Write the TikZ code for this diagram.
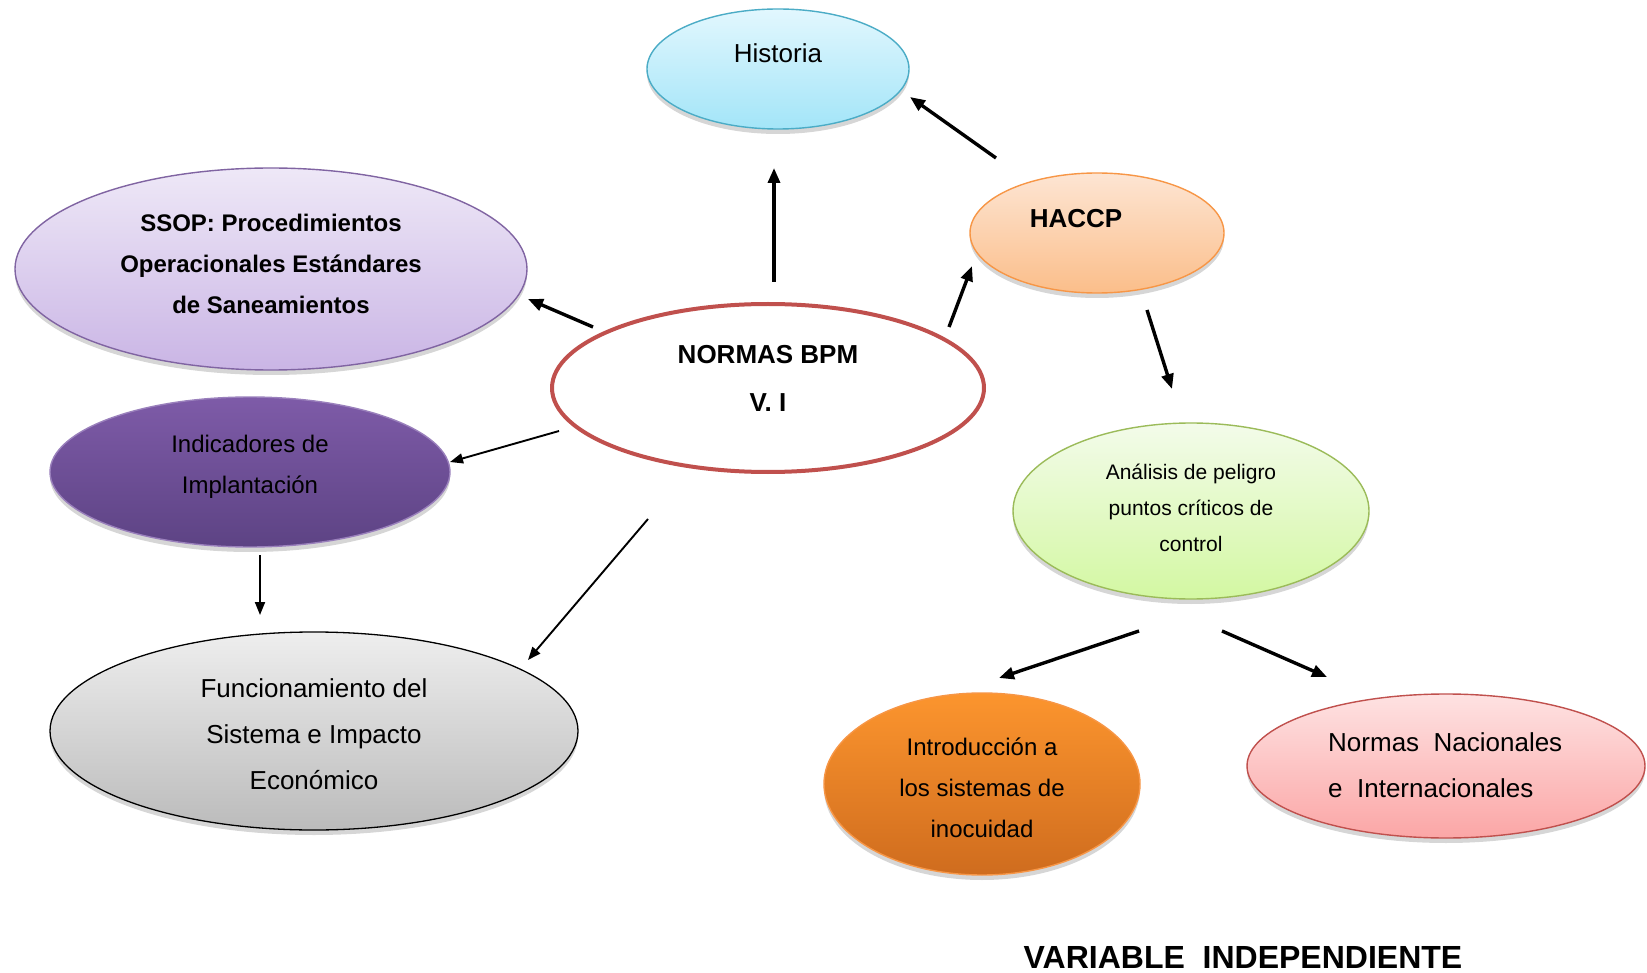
\documentclass[tikz,border=0pt]{standalone}
\usepackage{fontspec}
\setmainfont{Liberation Sans}
\usetikzlibrary{shapes.geometric,arrows.meta,shadows}

% fills and outlines of the bubbles
\definecolor{histTop}{HTML}{E2F7FE}
\definecolor{histBot}{HTML}{A3E5F8}
\definecolor{histLine}{HTML}{4BACC6}
\definecolor{hacTop}{HTML}{FDE5D3}
\definecolor{hacBot}{HTML}{FBBE8A}
\definecolor{hacLine}{HTML}{F79646}
\definecolor{ssopTop}{HTML}{EEE8F7}
\definecolor{ssopBot}{HTML}{CAB5E5}
\definecolor{ssopLine}{HTML}{8064A2}
\definecolor{indTop}{HTML}{7E5BA8}
\definecolor{indBot}{HTML}{5D4384}
\definecolor{indLine}{HTML}{9A80BC}
\definecolor{bpmLine}{HTML}{C0504D}
\definecolor{funTop}{HTML}{EEEEEE}
\definecolor{funBot}{HTML}{BBBBBB}
\definecolor{anaTop}{HTML}{F3FBEA}
\definecolor{anaBot}{HTML}{D3F8A2}
\definecolor{anaLine}{HTML}{9BBB59}
\definecolor{intTop}{HTML}{FC952E}
\definecolor{intBot}{HTML}{CF6C1E}
\definecolor{nacTop}{HTML}{FEE2E2}
\definecolor{nacBot}{HTML}{FBA6A6}

\begin{document}
\begin{tikzpicture}[x=1pt,y=-1pt,
  bubble/.style={ellipse, inner sep=0pt, line width=1.4pt},
  softshadow/.style={drop shadow={shadow xshift=0pt,shadow yshift=-5pt,opacity=0.16,fill=black}},
  bigarrow/.style={line width=3.4pt,-{Triangle[length=15pt,width=12pt]}},
  smallarrow/.style={line width=1.9pt,-{Triangle[length=13pt,width=10pt]}},
  plain/.style={font=\fontsize{24}{41}\selectfont, align=center, inner sep=0pt},
]
\useasboundingbox[fill=white] (0,0) rectangle (1647,973);

% ---- bubbles ----
\node[bubble, softshadow, draw=histLine, top color=histTop, bottom color=histBot,
      minimum width=262pt, minimum height=120pt] (historia) at (778,69) {};
\node[bubble, softshadow, draw=hacLine, top color=hacTop, bottom color=hacBot,
      minimum width=254pt, minimum height=120pt] (haccp) at (1097,233) {};
\node[bubble, softshadow, draw=ssopLine, top color=ssopTop, bottom color=ssopBot,
      minimum width=512pt, minimum height=202pt] (ssop) at (271,269) {};
\node[bubble, draw=bpmLine, fill=white, line width=4pt,
      minimum width=432pt, minimum height=168pt] (bpm) at (768,388) {};
\node[bubble, softshadow, draw=indLine, top color=indTop, bottom color=indBot,
      minimum width=400pt, minimum height=150pt] (ind) at (250,472) {};
\node[bubble, softshadow, draw=black, line width=1.3pt, top color=funTop, bottom color=funBot,
      minimum width=528pt, minimum height=198pt] (fun) at (314,731) {};
\node[bubble, softshadow, draw=anaLine, top color=anaTop, bottom color=anaBot,
      minimum width=356pt, minimum height=176pt] (ana) at (1191,511) {};
\node[bubble, softshadow, draw=hacLine, top color=intTop, bottom color=intBot,
      minimum width=316pt, minimum height=182pt] (intro) at (982,784) {};
\node[bubble, softshadow, draw=bpmLine, top color=nacTop, bottom color=nacBot,
      minimum width=398pt, minimum height=144pt] (nac) at (1446,766) {};

% ---- texts ----
\node[plain, font=\fontsize{26}{46}\selectfont] (historia-t) at (778,53) {Historia};
\node[plain, font=\fontsize{26}{46}\selectfont\bfseries] (haccp-t) at (1076,219) {HACCP};
\node[plain, font=\fontsize{24}{41}\selectfont\bfseries] (ssop-t) at (271,264)
  {SSOP: Procedimientos\\Operacionales Estándares\\de Saneamientos};
\node[plain, font=\fontsize{26}{48}\selectfont\bfseries] (bpm-t) at (768,378) {NORMAS BPM\\V. I};
\node[plain] (ind-t) at (250,467) {Indicadores de\\Implantación};
\node[plain, font=\fontsize{26}{46}\selectfont] (fun-t) at (314,734)
  {Funcionamiento del\\Sistema e Impacto\\Económico};
\node[plain, font=\fontsize{21}{36}\selectfont] (ana-t) at (1191,508)
  {Análisis de peligro\\puntos críticos de\\control};
\node[plain] (intro-t) at (982,788) {Introducción a\\los sistemas de\\inocuidad};
\node[plain, font=\fontsize{26}{46}\selectfont, align=left, anchor=west] (nac-t) at (1328,765)
  {Normas\ \ Nacionales\\e\ \ Internacionales};
\node[plain, font=\fontsize{32}{38}\selectfont\bfseries] (title) at (1243,957)
  {VARIABLE\ \ INDEPENDIENTE};

% ---- connector ends ----
\coordinate (bpm-n)   at (774,282);  \coordinate (hist-s)  at (774,168);
\coordinate (hac-nw)  at (996,158);  \coordinate (hist-se) at (910,97);
\coordinate (bpm-nw)  at (593,327);  \coordinate (ssop-e)  at (528,299);
\coordinate (bpm-ne)  at (949,327);  \coordinate (hac-sw)  at (972,266);
\coordinate (hac-s)   at (1147,310); \coordinate (ana-n)   at (1172,389);
\coordinate (bpm-w)   at (559,431);  \coordinate (ind-e)   at (450,462);
\coordinate (ind-s)   at (260,555);  \coordinate (fun-n)   at (260,615);
\coordinate (bpm-sw)  at (648,519);  \coordinate (fun-ne)  at (528,660);
\coordinate (ana-sw)  at (1139,631); \coordinate (intro-n) at (999,678);
\coordinate (ana-se)  at (1222,631); \coordinate (nac-n)   at (1327,677);

% ---- connectors ----
\draw[bigarrow] (bpm-n) -- (hist-s);
\draw[bigarrow] (hac-nw) -- (hist-se);
\draw[bigarrow] (bpm-nw) -- (ssop-e);
\draw[bigarrow] (bpm-ne) -- (hac-sw);
\draw[bigarrow] (hac-s) -- (ana-n);
\draw[smallarrow] (bpm-w) -- (ind-e);
\draw[smallarrow] (ind-s) -- (fun-n);
\draw[smallarrow] (bpm-sw) -- (fun-ne);
\draw[bigarrow] (ana-sw) -- (intro-n);
\draw[bigarrow] (ana-se) -- (nac-n);
\end{tikzpicture}
\end{document}
